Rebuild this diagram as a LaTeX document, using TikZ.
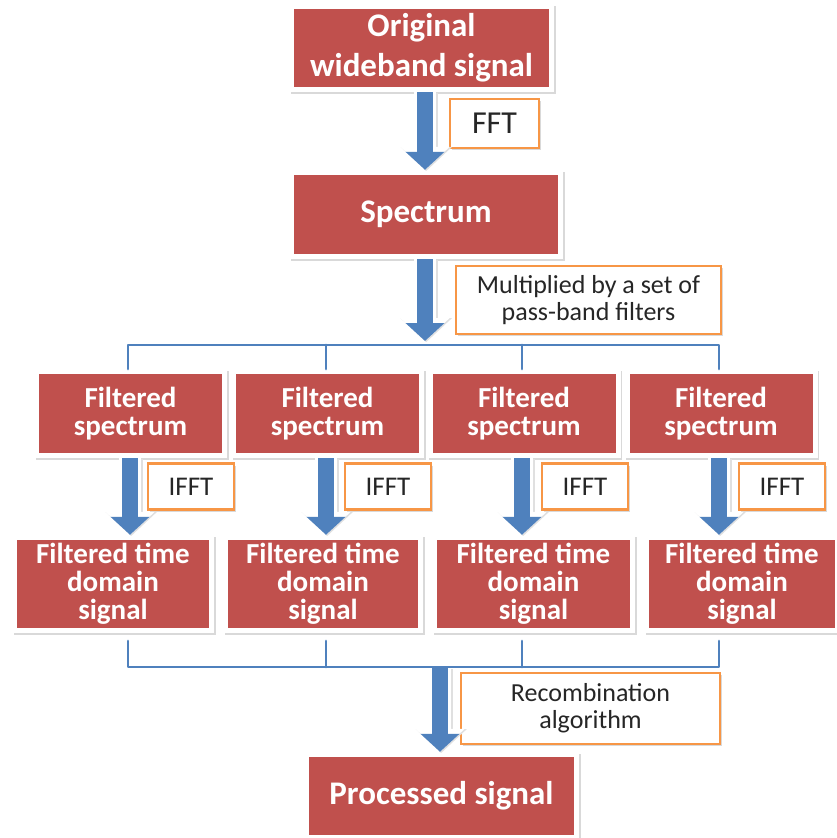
\documentclass[tikz,border=0pt]{standalone}
\usepackage{fontspec}
\setmainfont{Carlito}
\usetikzlibrary{arrows.meta,shadows}

\definecolor{boxred}{HTML}{C0504D}
\definecolor{flowblue}{HTML}{4F81BD}
\definecolor{tagorange}{HTML}{F79646}

\tikzset{
  redbox/.style={
    fill=white, inner sep=0pt, align=center, text=white,
    font=\bfseries,
    drop shadow={shadow xshift=1.5pt, shadow yshift=-1.5pt, opacity=0.25, fill=black!60},
    path picture={
      \fill[boxred] ([shift={(5pt,5pt)}]path picture bounding box.south west)
        rectangle ([shift={(-5pt,-5pt)}]path picture bounding box.north east);
    }
  },
  tagbox/.style={
    fill=white, draw=tagorange, line width=2.5pt, inner sep=0pt, align=center,
    text=black!85,
    drop shadow={shadow xshift=2pt, shadow yshift=-2pt, opacity=0.25, fill=black!60}
  },
  bigarrow/.style={
    draw=flowblue, line width=16pt, -{Triangle[width=38pt,length=18pt]},
    preaction={draw=black!12, line width=24pt, -{Triangle[width=50pt,length=24pt]},
      transform canvas={shift={(1.2pt,-1.2pt)}}},
    preaction={draw=white, line width=22pt, -{Triangle[width=48pt,length=23pt]}}
  },
  bracket/.style={draw=flowblue, line width=2.8pt, line cap=round, line join=round},
  bigtext/.style={font=\fontsize{33}{40}\selectfont\bfseries},
  midtext/.style={font=\fontsize{29}{28}\selectfont\bfseries}
}

\begin{document}
\begin{tikzpicture}[x=1pt, y=-1pt]
\useasboundingbox (0,0) rectangle (837,838);

% main chain
\node[redbox, bigtext, minimum width=265pt, minimum height=88pt]
  (orig) at (421.5,48) {Original\\wideband signal};
\node[redbox, bigtext, minimum width=274pt, minimum height=89pt]
  (spec) at (426,214.5) {Spectrum};
\node[redbox, bigtext, minimum width=275pt, minimum height=88pt]
  (proc) at (441.5,796) {Processed signal};

% filtered spectra
\foreach \i/\x in {1/130.5, 2/327.5, 3/524, 4/721} {
  \node[redbox, midtext, minimum width=193pt, minimum height=89pt]
    (fs\i) at (\x,413.5) {Filtered\\spectrum};
}

% filtered time domain signals
\foreach \i/\x/\w in {1/113/202, 2/323/200, 3/533.5/203, 4/742/196} {
  \node[redbox, midtext, minimum width=\w pt, minimum height=98pt]
    (td\i) at (\x,584) {Filtered time\\domain\\signal};
}

% operation tags
\node[tagbox, minimum width=89pt, minimum height=49pt, font=\fontsize{32}{36}\selectfont]
  (fft) at (494.5,123.5) {FFT};
\node[tagbox, minimum width=265pt, minimum height=68pt, font=\fontsize{26}{27}\selectfont]
  (mult) at (588.5,300) {Multiplied by a set of\\pass-band filters};
\foreach \i/\x in {1/129, 2/326, 3/523, 4/720} {
  \node[tagbox, minimum width=86pt, minimum height=46pt, font=\fontsize{27}{30}\selectfont]
    (ifft\i) at (\x+62,486.5) {IFFT};
}
\node[tagbox, minimum width=259pt, minimum height=71pt, font=\fontsize{26}{27}\selectfont]
  (rec) at (590.5,708.5) {Recombination\\algorithm};

% bracket points
\coordinate (split) at (425,341);
\coordinate (merge) at (440,668);
\foreach \i/\x in {1/128, 2/326, 3/522, 4/719} {
  \coordinate (up\i) at (\x,345);
  \coordinate (lo\i) at (\x,667);
  \coordinate (fsTop\i) at (\x,369);
  \coordinate (tdBot\i) at (\x,641);
}

% block arrows
\draw[bigarrow] (orig.south -| split) -- (spec.north -| split);
\draw[bigarrow] (spec.south -| split) -- (split);
\foreach \i/\x in {1/130, 2/326, 3/522, 4/719} {
  \draw[bigarrow] (fs\i.south -| \x,0) -- (td\i.north -| \x,0);
}
\draw[bigarrow] (merge) -- (proc.north -| merge);

% distribution and collection brackets
\draw[bracket] (fsTop1) -- (up1) -- (up4) -- (fsTop4);
\draw[bracket] (up2) -- (fsTop2);
\draw[bracket] (up3) -- (fsTop3);
\draw[bracket] (tdBot1) -- (lo1) -- (lo4) -- (tdBot4);
\draw[bracket] (tdBot2) -- (lo2);
\draw[bracket] (tdBot3) -- (lo3);
\end{tikzpicture}
\end{document}
